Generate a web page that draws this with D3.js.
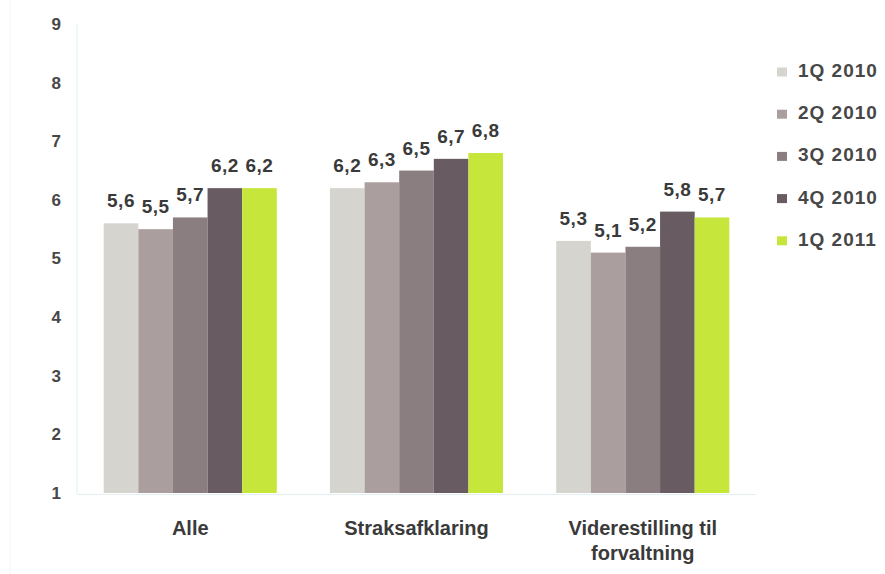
<!DOCTYPE html>
<html><head><meta charset="utf-8">
<script src="https://cdn.jsdelivr.net/npm/d3@7"></script>
<style>body{margin:0;background:#fff}svg{display:block}</style>
</head><body>
<script>
const categories = ["Alle", "Straksafklaring", "Viderestilling til forvaltning"];
const seriesNames = ["1Q 2010", "2Q 2010", "3Q 2010", "4Q 2010", "1Q 2011"];
const v1Q2010 = [5.6, 6.2, 5.3];
const v2Q2010 = [5.5, 6.3, 5.1];
const v3Q2010 = [5.7, 6.5, 5.2];
const v4Q2010 = [6.2, 6.7, 5.8];
const v1Q2011 = [6.2, 6.8, 5.7];
const yTicks = [1, 2, 3, 4, 5, 6, 7, 8, 9];
const colors = ["#d6d4cf", "#ab9e9e", "#8b7e81", "#685b61", "#c6e63c"];

const seriesValues = [v1Q2010, v2Q2010, v3Q2010, v4Q2010, v1Q2011];
const W = 885, H = 574;
const FONT = "Liberation Sans, Arial, sans-serif";
const svg = d3.select("body").append("svg").attr("width", W).attr("height", H);

const x0 = d3.scaleBand().domain(categories).range([77, 756]).paddingInner(0.235).paddingOuter(0.118);
const x1 = d3.scaleBand().domain(seriesNames).range([0, x0.bandwidth()]);
const y = d3.scaleLinear().domain([1, 9]).range([493, 24]);

// faint frame lines
svg.append("line").attr("x1", 10).attr("x2", 10).attr("y1", 0).attr("y2", H).attr("stroke", "#eef6f7").attr("stroke-width", 1);
svg.append("line").attr("x1", 77).attr("x2", 77).attr("y1", 24).attr("y2", 494).attr("stroke", "#e3f0f2").attr("stroke-width", 1);
svg.append("line").attr("x1", 77).attr("x2", 756).attr("y1", 494.5).attr("y2", 494.5).attr("stroke", "#e3f0f2").attr("stroke-width", 1);

// y axis labels
const yAxis = d3.axisLeft(y).tickValues(yTicks).tickSize(0).tickPadding(0).tickFormat(d3.format("d"));
const ya = svg.append("g").attr("transform", "translate(61,0)").call(yAxis);
ya.select(".domain").remove();
ya.selectAll("text").attr("font-family", FONT).attr("font-weight", "bold")
  .attr("font-size", 17).attr("fill", "#474747");

const groups = svg.append("g").selectAll("g").data(categories).join("g")
  .attr("transform", d => `translate(${x0(d)},0)`);

groups.each(function(cat, ci) {
  const g = d3.select(this);
  seriesNames.forEach((s, si) => {
    const v = seriesValues[si][ci];
    g.append("rect").attr("x", x1(s)).attr("width", x1.bandwidth())
      .attr("y", y(v)).attr("height", y(1) - y(v)).attr("fill", colors[si]);
    g.append("text").attr("x", x1(s) + x1.bandwidth() / 2).attr("y", y(v) - 16)
      .attr("text-anchor", "middle").attr("font-family", FONT)
      .attr("font-weight", "bold").attr("font-size", 19).attr("letter-spacing", 0.5).attr("fill", "#3a3a3a")
      .text(d3.format(".1f")(v).replace(".", ","));
  });
});

// category labels
const catLines = {"Alle": ["Alle"], "Straksafklaring": ["Straksafklaring"], "Viderestilling til forvaltning": ["Viderestilling til", "forvaltning"]};
categories.forEach(c => {
  const t = svg.append("text").attr("x", x0(c) + x0.bandwidth() / 2).attr("y", 535)
    .attr("text-anchor", "middle").attr("font-family", FONT)
    .attr("font-weight", "bold").attr("font-size", 20).attr("fill", "#3a3a3a");
  catLines[c].forEach((l, i) => t.append("tspan").attr("x", x0(c) + x0.bandwidth() / 2).attr("dy", i ? 25 : 0).text(l));
});

// legend
const leg = svg.append("g");
seriesNames.forEach((s, i) => {
  const yy = 72 + i * 42.2;
  leg.append("rect").attr("x", 777).attr("y", yy - 4.5).attr("width", 10).attr("height", 9).attr("fill", colors[i]);
  leg.append("text").attr("x", 798).attr("y", yy + 5).attr("font-family", FONT)
    .attr("font-weight", "bold").attr("font-size", 19).attr("letter-spacing", 1).attr("fill", "#474747").text(s);
});
</script>
</body></html>
